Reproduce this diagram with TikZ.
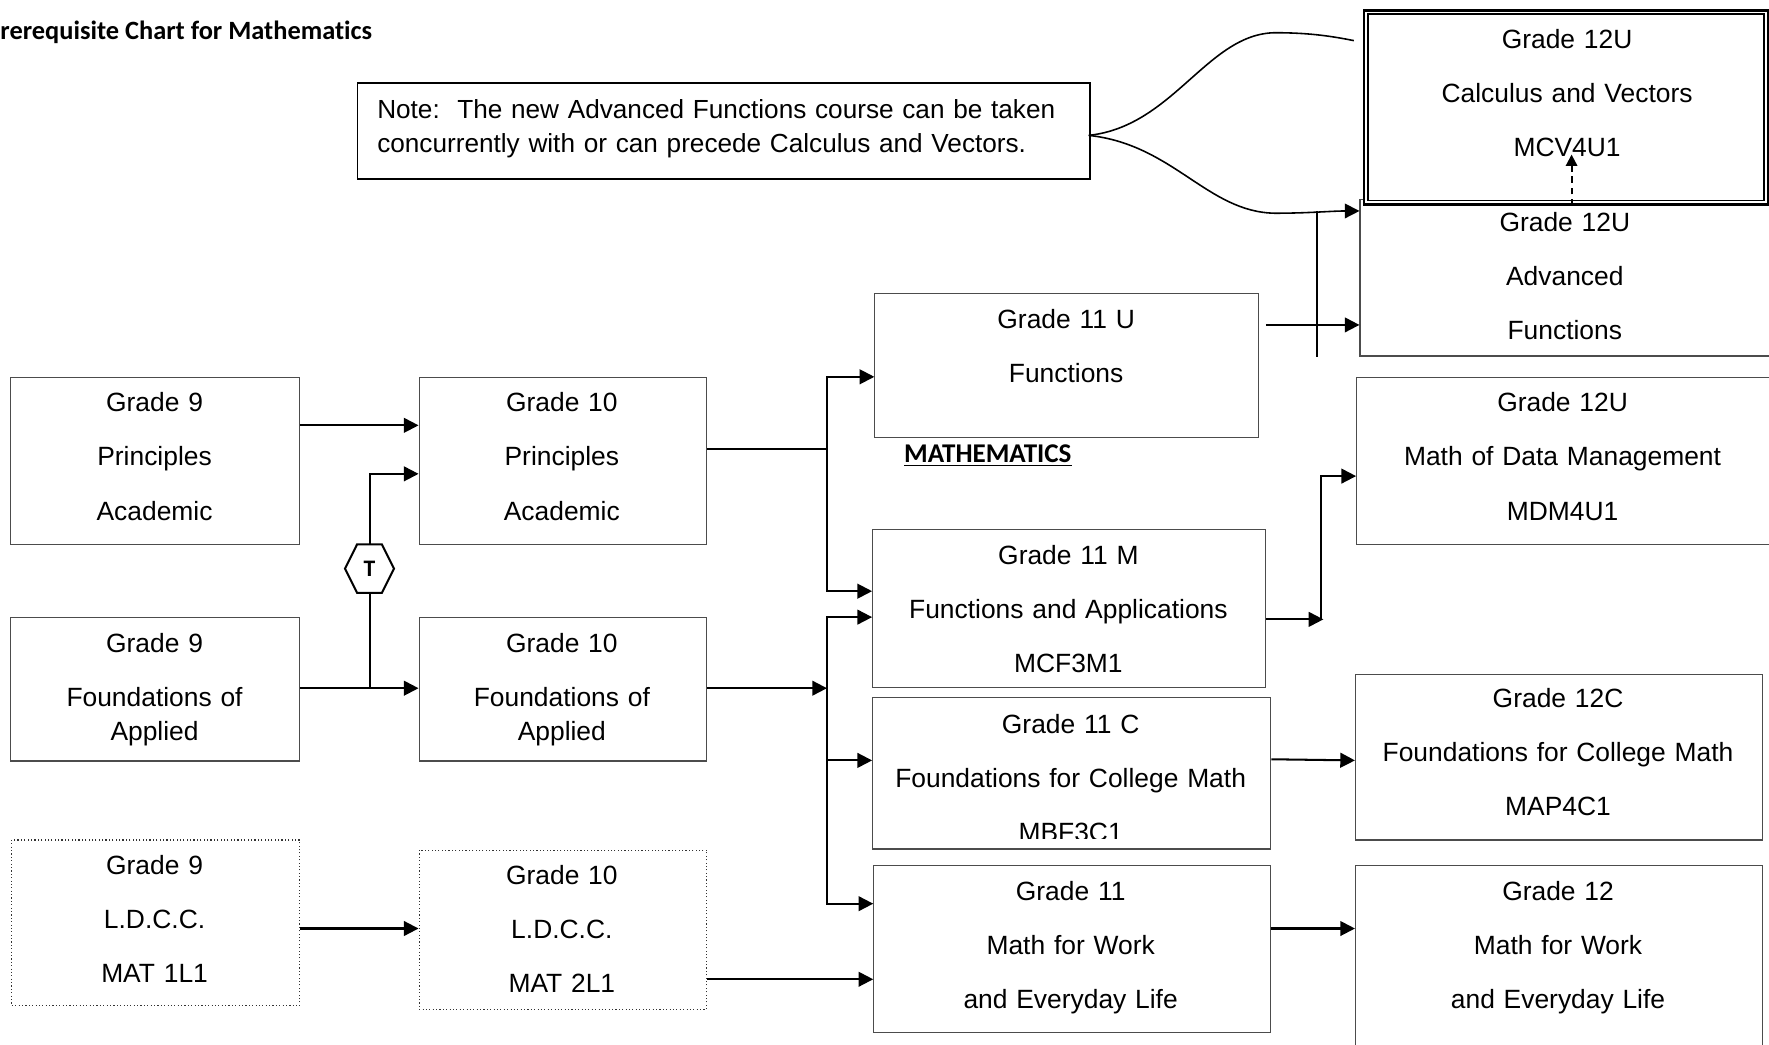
\documentclass[tikz,border=0pt]{standalone}
\usepackage{fontspec}
\setmainfont{Liberation Sans}
\newfontfamily\calfont[Ligatures=NoCommon]{Carlito}
\usetikzlibrary{arrows.meta}

\begin{document}
\begin{tikzpicture}[x=0.5pt, y=-0.5pt,
  box/.style={draw=black!70, line width=0.5pt, inner sep=0pt, anchor=north west},
  ldbox/.style={box, draw=black!80, densely dotted},
  txt/.style={inner sep=0pt, anchor=base, text width=175pt, align=center,
              font=\fontsize{11.7}{24}\selectfont},
  conn/.style={line width=0.9pt},
  arr/.style={line width=0.9pt, -{Triangle[length=6.5pt,width=6.5pt]}},
  darr/.style={line width=0.9pt, dash pattern=on 3pt off 2pt,
               -{Triangle[length=5pt,width=5pt]}},
  heading/.style={inner sep=0pt, anchor=base west, font=\calfont\bfseries\fontsize{11.7}{13}\selectfont}
]
\useasboundingbox (0,0) rectangle (1568,926);
\clip (0,0) rectangle (1568,926);

% heading texts
\node[heading] (title) at (0,35) {rerequisite Chart for Mathematics};
\node[heading, font=\calfont\bfseries\fontsize{12}{13}\selectfont] (maths) at (801,410) {\underline{MATHEMATICS}};

% note
\node[box, draw=black, line width=0.8pt, minimum width=324.5pt, minimum height=42.5pt] (note) at (316,73) {};
\node[inner sep=0pt, anchor=base west, text width=320pt, align=left,
      font=\fontsize{11.6}{15}\selectfont] (notetxt) at (334,105)
  {Note:\ \ The new Advanced Functions course can be taken\\concurrently with or can precede Calculus and Vectors.};

% grade 9 and 10
\node[box, minimum width=128pt, minimum height=74pt] (g9p) at (9,334) {};
\node[box, minimum width=127.5pt, minimum height=74pt] (g10p) at (371,334) {};
\node[box, minimum width=128pt, minimum height=63.5pt] (g9f) at (9,547) {};
\node[box, minimum width=127.5pt, minimum height=63.5pt] (g10f) at (371,547) {};
\node[ldbox, minimum width=127.5pt, minimum height=73.5pt] (g9l) at (10,744) {};
\node[ldbox, minimum width=127.5pt, minimum height=70.5pt] (g10l) at (371,753) {};

\node[txt] (g9pt) at (137,365) {Grade 9\\Principles\\Academic};
\node[txt] (g10pt) at (498,365) {Grade 10\\Principles\\Academic};
\node[txt] (g9ft) at (137,578) {Grade 9\\Foundations of\\[-9pt]Applied};
\node[txt] (g10ft) at (498,578) {Grade 10\\Foundations of\\[-9pt]Applied};
\node[txt] (g9lt) at (137,775) {Grade 9\\L.D.C.C.\\MAT 1L1};
\node[txt] (g10lt) at (498,784) {Grade 10\\L.D.C.C.\\MAT 2L1};

% grade 11
\node[box, minimum width=170pt, minimum height=63.5pt] (g11u) at (775,260) {};
\node[box, minimum width=174pt, minimum height=70pt] (g11m) at (773,469) {};
\node[box, minimum width=176.5pt, minimum height=67pt] (g11c) at (773,618) {};
\node[box, minimum width=176pt, minimum height=74pt] (g11w) at (774,767) {};

\node[txt] (g11ut) at (945,291) {Grade 11 U\\Functions};
\node[txt] (g11mt) at (947,500) {Grade 11 M\\Functions and Applications\\MCF3M1};
\begin{scope}
  \clip (773,618) rectangle (1126,743.5);
  \node[txt] (g11ct) at (949,650) {Grade 11 C\\Foundations for College Math\\MBF3C1};
\end{scope}
\node[txt] (g11wt) at (949,798) {Grade 11\\Math for Work\\and Everyday Life};

% grade 12
\node[box, minimum width=197.5pt, minimum height=69.5pt] (g12af) at (1205,176) {};
\node[box, draw=black, fill=white, line width=1.1pt, minimum width=179pt, minimum height=86pt] (g12cv) at (1208,8) {};
\draw[line width=0.7pt] ([shift={(4.5,4.5)}]g12cv.north west) rectangle ([shift={(-4.5,-4.5)}]g12cv.south east);
\node[box, minimum width=199pt, minimum height=74pt] (g12dm) at (1202,334) {};
\node[box, minimum width=180.5pt, minimum height=73.5pt] (g12c) at (1201,597) {};
\node[box, minimum width=180.5pt, minimum height=96.5pt] (g12w) at (1201,767) {};

\node[txt] (g12cvt) at (1389,43) {Grade 12U\\Calculus and Vectors\\MCV4U1};
\node[txt] (g12aft) at (1387,205) {Grade 12U\\Advanced\\Functions};
\node[txt] (g12dmt) at (1385,365) {Grade 12U\\Math of Data Management\\MDM4U1};
\node[txt] (g12ct) at (1381,627) {Grade 12C\\Foundations for College Math\\MAP4C1};
\node[txt] (g12wt) at (1381,798) {Grade 12\\Math for Work\\and Everyday Life};

% grade 9 to grade 10
\draw[arr] (g9p.east |- 0,377) -- (g10p.west |- 0,377);
\draw[arr] (g9f.east |- 0,610) -- (g10f.west |- 0,610);
\draw[arr] (g9l.east |- 0,823) -- (g10l.west |- 0,823);
\coordinate (tj) at (328,610);
\draw[arr] (tj) -- (328,420) -- (g10p.west |- 0,420);
\node[inner sep=0pt, font=\calfont\bfseries\fontsize{10.5}{12}\selectfont] (tr) at (327.5,504) {T};
\draw[line width=0.9pt, fill=white] (tr.center)
  ++(-21.7,0) -- ++(10.7,-21.5) -- ++(22,0) -- ++(10.7,21.5)
  -- ++(-10.7,21.5) -- ++(-22,0) -- cycle;
\node[inner sep=0pt, font=\calfont\bfseries\fontsize{10.5}{12}\selectfont] at (tr) {T};

% grade 10 to grade 11
\coordinate (bp) at (733,398);
\coordinate (bf) at (733,610);
\draw[conn] (g10p.east |- bp) -- (bp);
\draw[arr] (bp) |- (g11u.west |- 0,334);
\draw[arr] (bp) |- (g11m.west |- 0,524);
\draw[arr] (g10f.east |- bf) -- (bf);
\draw[arr] (bf) |- (g11m.west |- 0,547);
\draw[arr] (bf) |- (g11c.west |- 0,674);
\draw[arr] (bf) |- (g11w.west |- 0,801);
\draw[arr] (g10l.east |- 0,868) -- (g11w.west |- 0,868);

% grade 11 to grade 12
\draw[arr] ([xshift=3pt]g11u.east |- 0,288) -- (g12af.west |- 0,288);
\draw[conn] ([xshift=-19pt]g12af.west |- 0,187) -- ([xshift=-19pt]g12af.south west);
\coordinate (mj) at (1171,549);
\draw[arr] (g11m.east |- mj) -- ([xshift=1pt]mj);
\draw[arr] (mj) -- (1171,422) -- (g12dm.west |- 0,422);
\draw[arr] (g11c.east |- 0,673) -- (g12c.west |- 0,674);
\draw[arr] (g11w.east |- 0,823) -- (g12w.west |- 0,823);
\draw[darr] (g12cv.south -| 1393,0) -- (1393,137);

% note braces
\coordinate (ns) at (965,120);
\coordinate (nu) at (1200,36);
\draw[line width=0.7pt] (ns) .. controls (1040,112) and (1070,30) .. (1130,29)
  .. controls (1160,29) and (1180,32) .. (nu);
\draw[line width=0.7pt, -{Triangle[length=6.5pt,width=6.5pt]}] (ns)
  .. controls (1040,128) and (1070,188) .. (1130,189)
  .. controls (1160,189) and (1180,187) .. (g12af.west |- 0,187);
\end{tikzpicture}
\end{document}
